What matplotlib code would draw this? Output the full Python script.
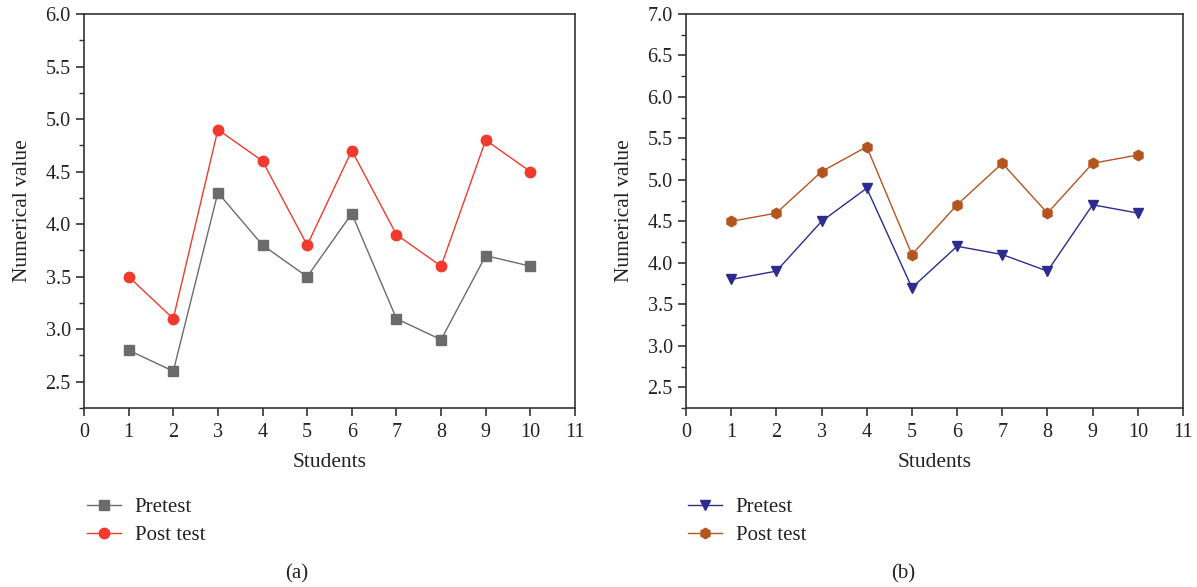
import matplotlib
matplotlib.use("Agg")
import matplotlib.pyplot as plt
from matplotlib.ticker import MultipleLocator, AutoMinorLocator

plt.rcParams['font.family'] = ['Liberation Serif', 'DejaVu Serif']

students = [1, 2, 3, 4, 5, 6, 7, 8, 9, 10]
a_pre = [2.8, 2.6, 4.3, 3.8, 3.5, 4.1, 3.1, 2.9, 3.7, 3.6]
a_post = [3.5, 3.1, 4.9, 4.6, 3.8, 4.7, 3.9, 3.6, 4.8, 4.5]
b_pre = [3.8, 3.9, 4.5, 4.9, 3.7, 4.2, 4.1, 3.9, 4.7, 4.6]
b_post = [4.5, 4.6, 5.1, 5.4, 4.1, 4.7, 5.2, 4.6, 5.2, 5.3]
xticks = list(range(0, 12))

fig = plt.figure(figsize=(11.97, 5.87), dpi=100)
ax1 = fig.add_axes([84/1197, 1-408/587, 491/1197, 394/587])
ax2 = fig.add_axes([686/1197, 1-408/587, 497/1197, 394/587])

axis_col = '#333333'
txt_col = '#222222'
def style(ax, ymax):
    ax.set_xlim(0, 11)
    ax.set_ylim(2.25, ymax)
    ax.set_xticks(xticks)
    ax.yaxis.set_major_locator(MultipleLocator(0.5))
    ax.yaxis.set_minor_locator(AutoMinorLocator(2))
    ax.yaxis.set_major_formatter(matplotlib.ticker.FormatStrFormatter('%.1f'))
    for s in ax.spines.values():
        s.set_color(axis_col)
        s.set_linewidth(1.2)
    ax.tick_params(axis='both', which='major', direction='out', length=6, width=1.2,
                   color=axis_col, labelsize=14.5, labelcolor=txt_col)
    ax.tick_params(axis='y', which='minor', direction='out', length=3.5, width=1.0, color=axis_col)
    ax.tick_params(axis='x', pad=5)
    ax.set_xlabel('Students', fontsize=15.5, color=txt_col, labelpad=8)
    ax.set_ylabel('Numerical value', fontsize=15.5, color=txt_col, labelpad=10)
    yt = ax.get_yticks()
    ax.set_yticks([t for t in yt if t >= 2.5 and t <= ymax + 1e-9])

ax1.plot(students, a_pre, color='#6b6b6b', marker='s', markersize=6.5, lw=1.0, label='Pretest')
ax1.plot(students, a_post, color='#f03a2e', marker='o', markersize=7.5, lw=1.0, label='Post test')
style(ax1, 6.0)

ax2.plot(students, b_pre, color='#2e2b8f', marker='v', markersize=7.5, lw=1.0, label='Pretest')
ax2.plot(students, b_post, color='#b4541f', marker='h', markersize=7.5, lw=1.0, label='Post test')
style(ax2, 7.0)

for ax, x0 in ((ax1, 68), (ax2, 669)):
    ax.legend(loc='upper left', bbox_to_anchor=(x0/1197, 1-479/587), bbox_transform=fig.transFigure,
              frameon=False, fontsize=15, handlelength=1.65, handletextpad=0.65, labelspacing=0.4,
              labelcolor=txt_col)

fig.text(297/1197, 1-574/587, '(a)', ha='center', va='center', fontsize=15, color=txt_col)
fig.text(903/1197, 1-574/587, '(b)', ha='center', va='center', fontsize=15, color=txt_col)

fig.savefig('out.png', dpi=100)
